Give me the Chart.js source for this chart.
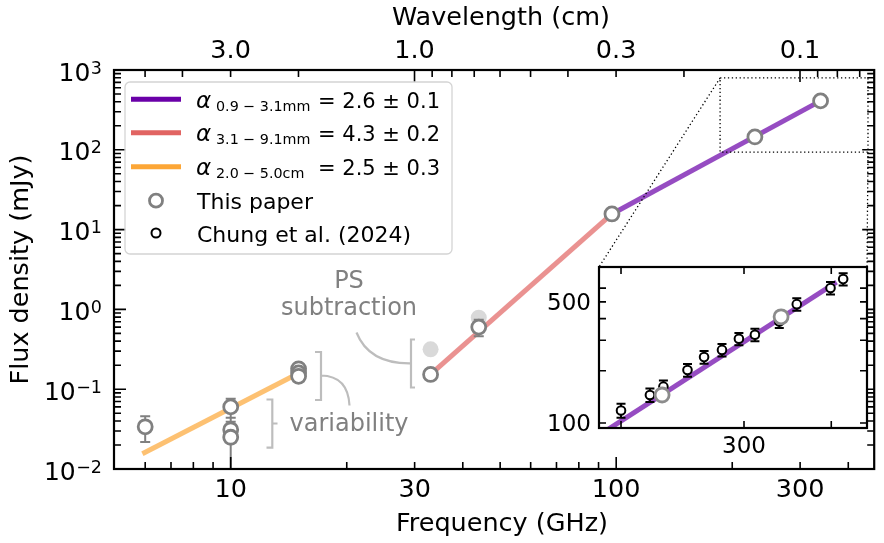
<!DOCTYPE html>
<html lang="en">
<head>
<meta charset="UTF-8">
<title>Flux density vs frequency</title>
<script src="https://cdn.jsdelivr.net/npm/chart.js@4"></script>
<style>
  body { margin: 0; background: #ffffff; }
  #wrap { position: relative; width: 884px; height: 543px; }
  #wrap canvas { position: absolute; left: 0; top: 0; }
  #insetCanvas { pointer-events: none; }
</style>
</head>
<body>
<div id="wrap">
  <canvas id="mainCanvas" width="884" height="543"></canvas>
  <canvas id="insetCanvas" width="884" height="543"></canvas>
</div>
<script>
// ---- values (frequency in GHz, flux density in mJy) ----
const paperFreq = [6.0, 10, 10, 10, 15, 15, 15, 33, 44, 97.5, 229, 339];
const paperFlux = [0.0338, 0.060, 0.031, 0.025, 0.18, 0.16, 0.145, 0.153, 0.60, 15.7, 145, 410];
const paperErr  = [0.012, 0.016, 0.008, 0.03, 0.01, 0.01, 0.01, 0.015, 0.14, 1.0, 7, 20];

// before point-source subtraction (filled light grey)
const prePSFreq = [33, 44];
const prePSFlux = [0.316, 0.787];

// Chung et al. (2024), only shown in the inset
const chungFreq = [200, 220, 230, 249, 263, 279, 295, 311, 337, 357, 399, 416];
const chungFlux = [118, 145, 162, 202, 240, 264, 306, 323, 385, 485, 601, 677];
const chungErr  = [11, 13, 14, 17, 20, 22, 25, 27, 32, 40, 50, 55];

// power-law fits, start and end of each segment
const fitCmFreq  = [5.9, 15];    const fitCmFlux  = [0.0155, 0.158];
const fitMidFreq = [33, 97.5];   const fitMidFlux = [0.153, 15.7];
const fitMmFreq  = [97.5, 339];  const fitMmFlux  = [15.7, 410];
const insetFitFreq = [180, 407]; const insetFitFlux = [78, 650];

// legend texts
const fitNames  = ['0.9 \u2212 3.1mm', '3.1 \u2212 9.1mm', '2.0 \u2212 5.0cm'];
const fitValues = ['= 2.6 \u00b1 0.1', '= 4.3 \u00b1 0.2', '= 2.5 \u00b1 0.3'];
const fitColors = ['#6a00a8', '#e16462', '#fca636'];

// axes
const xRange = [4.98, 467];
const yRange = [0.01, 1000];
const insetX = [186, 450];
const insetY = [93.5, 795];
const bottomMajor = [10, 100];
const bottomMinor = [6, 7, 8, 9, 20, 30, 40, 50, 60, 70, 80, 90, 200, 300, 400];
const bottomLabels = [10, 30, 100, 300];
const topMajorCm = [1.0, 0.1];
const topMinorCm = [5, 4, 3, 2, 0.9, 0.8, 0.7, 0.6, 0.5, 0.4, 0.3, 0.2, 0.09, 0.08, 0.07];
const topLabelsCm = [3.0, 1.0, 0.3, 0.1];
const yDecades = [-2, -1, 0, 1, 2, 3];
const insetXTicks = [200, 300, 400];
const insetXLabels = [300];
const insetYTicks = [100, 200, 300, 400, 500, 600];
const insetYLabels = [100, 500];

const C_CM_GHZ = 29.98;   // wavelength(cm) = C / freq(GHz)
const FONT = '"DejaVu Sans", sans-serif';

function pts(xs, ys) {
    return xs.map((v, i) => ({ x: v, y: ys[i] }));
}

function text(ctx, s, x, y, size, align, color, italic) {
    ctx.save();
    ctx.font = (italic ? 'italic ' : '') + size + 'px ' + FONT;
    ctx.fillStyle = color || '#000';
    ctx.textAlign = align || 'left';
    ctx.textBaseline = 'alphabetic';
    ctx.fillText(s, x, y);
    ctx.restore();
}

// vertical error bars with caps, drawn from the chart's own scales
function drawErrBars(chart, xs, ys, errs, color, cap) {
    const { ctx, chartArea: a, scales: { x, y } } = chart;
    ctx.save();
    ctx.beginPath();
    ctx.rect(a.left, a.top, a.width, a.height);
    ctx.clip();
    ctx.strokeStyle = color;
    ctx.lineWidth = 2;
    ctx.beginPath();
    xs.forEach((v, i) => {
        const px = x.getPixelForValue(v);
        const lo = ys[i] - errs[i];
        const hi = ys[i] + errs[i];
        const pyLo = lo > 0 ? y.getPixelForValue(lo) : a.bottom + 10;
        const pyHi = y.getPixelForValue(hi);
        ctx.moveTo(px, pyLo); ctx.lineTo(px, pyHi);
        ctx.moveTo(px - cap, pyHi); ctx.lineTo(px + cap, pyHi);
        if (lo > 0) { ctx.moveTo(px - cap, pyLo); ctx.lineTo(px + cap, pyLo); }
    });
    ctx.stroke();
    ctx.restore();
}

function roundRect(ctx, x, y, w, h, r) {
    ctx.beginPath();
    ctx.moveTo(x + r, y);
    ctx.lineTo(x + w - r, y); ctx.arcTo(x + w, y, x + w, y + r, r);
    ctx.lineTo(x + w, y + h - r); ctx.arcTo(x + w, y + h, x + w - r, y + h, r);
    ctx.lineTo(x + r, y + h); ctx.arcTo(x, y + h, x, y + h - r, r);
    ctx.lineTo(x, y + r); ctx.arcTo(x, y, x + r, y, r);
    ctx.closePath();
}

const PAPER_IDX = 4;

const mainDecor = {
    id: 'mainDecor',
    beforeDatasetDraw(chart, args) {
        if (args.index === PAPER_IDX) drawErrBars(chart, paperFreq, paperFlux, paperErr, '#808080', 5);
    },
    afterDraw(chart) {
        const { ctx, chartArea: a, scales: { x, y } } = chart;
        const MAJ = 12, MIN = 7;

        // ticks, all pointing in
        ctx.save();
        ctx.strokeStyle = '#000';
        ctx.lineWidth = 1.6;
        ctx.beginPath();
        bottomMajor.forEach(v => { const p = x.getPixelForValue(v); ctx.moveTo(p, a.bottom); ctx.lineTo(p, a.bottom - MAJ); });
        bottomMinor.forEach(v => { const p = x.getPixelForValue(v); ctx.moveTo(p, a.bottom); ctx.lineTo(p, a.bottom - MIN); });
        topMajorCm.forEach(l => { const p = x.getPixelForValue(C_CM_GHZ / l); ctx.moveTo(p, a.top); ctx.lineTo(p, a.top + MAJ); });
        topMinorCm.forEach(l => { const p = x.getPixelForValue(C_CM_GHZ / l); ctx.moveTo(p, a.top); ctx.lineTo(p, a.top + MIN); });
        yDecades.forEach(d => {
            for (let k = 1; k <= 9; k++) {
                const v = k * Math.pow(10, d);
                if (v > yRange[1] * 1.0001) break;
                const p = y.getPixelForValue(v);
                const len = k === 1 ? MAJ : MIN;
                ctx.moveTo(a.left, p); ctx.lineTo(a.left + len, p);
                ctx.moveTo(a.right, p); ctx.lineTo(a.right - len, p);
            }
        });
        ctx.stroke();
        ctx.lineWidth = 2.2;
        ctx.strokeRect(a.left, a.top, a.width, a.height);
        ctx.restore();

        // tick labels
        bottomLabels.forEach(v => text(ctx, String(v), x.getPixelForValue(v), 497, 25.5, 'center'));
        topLabelsCm.forEach(l => text(ctx, l.toFixed(1), x.getPixelForValue(C_CM_GHZ / l), 58, 25.5, 'center'));
        yDecades.forEach(d => {
            const p = y.getPixelForValue(Math.pow(10, d));
            const sup = d < 0 ? '\u2212' + (-d) : String(d);
            ctx.font = '17.5px ' + FONT;
            const sw = ctx.measureText(sup).width;
            text(ctx, sup, 102, p + 3.5, 17.5, 'right');
            text(ctx, '10', 102 - sw - 0.5, p + 10.5, 25, 'right');
        });

        // axis titles
        text(ctx, 'Wavelength (cm)', 501, 25, 25.5, 'center');
        text(ctx, 'Frequency (GHz)', 502, 531, 25.5, 'center');
        ctx.save();
        ctx.translate(27.5, (a.top + a.bottom) / 2);
        ctx.rotate(-Math.PI / 2);
        text(ctx, 'Flux density (mJy)', 0, 0, 25.5, 'center');
        ctx.restore();

        // dotted box marking the zoomed region
        ctx.save();
        ctx.strokeStyle = '#000';
        ctx.lineWidth = 1.3;
        ctx.setLineDash([1.3, 2.6]);
        const rx0 = x.getPixelForValue(insetX[0]), rx1 = x.getPixelForValue(insetX[1]);
        const ry0 = y.getPixelForValue(insetY[1]), ry1 = y.getPixelForValue(insetY[0]);
        ctx.strokeRect(rx0, ry0, rx1 - rx0, ry1 - ry0);
        ctx.restore();

        // annotations
        const grey = '#808080';
        text(ctx, 'PS', 349, 288, 24, 'center', grey);
        text(ctx, 'subtraction', 349, 315, 24, 'center', grey);
        text(ctx, 'variability', 349, 431, 24, 'center', grey);
        ctx.save();
        ctx.strokeStyle = '#bdbdbd';
        ctx.lineWidth = 2.2;
        ctx.beginPath();
        // lower variability bracket
        ctx.moveTo(266.5, 399.5); ctx.lineTo(272.3, 399.5); ctx.lineTo(272.3, 447.7); ctx.lineTo(266.5, 447.7);
        ctx.moveTo(272.3, 423.5); ctx.lineTo(277.5, 423.5);
        // upper variability bracket with arc
        ctx.moveTo(315, 352); ctx.lineTo(321, 352); ctx.lineTo(321, 400); ctx.lineTo(315, 400);
        ctx.moveTo(321, 375.5); ctx.quadraticCurveTo(348, 376, 349.5, 405.5);
        // PS bracket with arc
        ctx.moveTo(415, 339.5); ctx.lineTo(411, 339.5); ctx.lineTo(411, 387.5); ctx.lineTo(415, 387.5);
        ctx.moveTo(411, 363.3); ctx.quadraticCurveTo(369, 364, 356.5, 332.5);
        ctx.stroke();
        ctx.restore();

        // legend
        ctx.save();
        roundRect(ctx, 125, 82, 327, 172, 5);
        ctx.fillStyle = 'rgba(255,255,255,0.8)';
        ctx.fill();
        ctx.strokeStyle = '#d4d4d4';
        ctx.lineWidth = 1.3;
        ctx.stroke();
        const rowY = [99.3, 132.7, 166.7];
        ctx.lineWidth = 5;
        fitNames.forEach((n, i) => {
            ctx.strokeStyle = fitColors[i];
            ctx.beginPath(); ctx.moveTo(131, rowY[i]); ctx.lineTo(181, rowY[i]); ctx.stroke();
            text(ctx, '\u03b1', 196, rowY[i] + 8.5, 23, 'left', '#000', true);
            text(ctx, n, 216, rowY[i] + 11.7, 14.3, 'left');
            text(ctx, fitValues[i], 318, rowY[i] + 8.5, 21, 'left');
        });
        ctx.lineWidth = 2.8;
        ctx.strokeStyle = '#808080';
        ctx.fillStyle = '#fff';
        ctx.beginPath(); ctx.arc(156, 200.7, 6.5, 0, Math.PI * 2); ctx.fill(); ctx.stroke();
        ctx.lineWidth = 2;
        ctx.strokeStyle = '#000';
        ctx.beginPath(); ctx.arc(156, 233, 4.5, 0, Math.PI * 2); ctx.fill(); ctx.stroke();
        ctx.restore();
        text(ctx, 'This paper', 197, 208.7, 22, 'left');
        text(ctx, 'Chung et al. (2024)', 197, 241.5, 22, 'left');
    }
};

const mainChart = new Chart(document.getElementById('mainCanvas'), {
    type: 'scatter',
    data: {
        datasets: [
            { label: 'fit cm', data: pts(fitCmFreq, fitCmFlux), showLine: true, borderColor: 'rgba(252,166,54,0.7)', borderWidth: 5, pointRadius: 0, order: 5 },
            { label: 'fit 3-9mm', data: pts(fitMidFreq, fitMidFlux), showLine: true, borderColor: 'rgba(225,100,98,0.7)', borderWidth: 5, pointRadius: 0, order: 5 },
            { label: 'fit 1-3mm', data: pts(fitMmFreq, fitMmFlux), showLine: true, borderColor: 'rgba(106,0,168,0.7)', borderWidth: 5, pointRadius: 0, order: 5 },
            { label: 'before PS subtraction', data: pts(prePSFreq, prePSFlux), pointRadius: 8, pointBorderWidth: 0, pointBackgroundColor: '#d9d9d9', order: 3 },
            { label: 'This paper', data: pts(paperFreq, paperFlux), pointRadius: 7, pointBorderWidth: 2.8, pointBorderColor: '#808080', pointBackgroundColor: '#ffffff', order: 1 }
        ]
    },
    options: {
        responsive: false,
        animation: false,
        devicePixelRatio: 1,
        events: [],
        layout: { padding: { left: 114, right: 1, top: 70, bottom: 74 } },
        plugins: { legend: { display: false }, tooltip: { enabled: false } },
        scales: {
            x: { type: 'logarithmic', min: xRange[0], max: xRange[1], display: false },
            y: { type: 'logarithmic', min: yRange[0], max: yRange[1], display: false }
        }
    },
    plugins: [mainDecor]
});

// ---- inset ----
const CHUNG_IDX = 1;
const inRange = (f) => f >= insetX[0] && f <= insetX[1];
const insetPaperFreq = paperFreq.filter(inRange);
const insetPaperFlux = paperFlux.filter((v, i) => inRange(paperFreq[i]));

const insetDecor = {
    id: 'insetDecor',
    beforeDraw(chart) {
        const { ctx, chartArea: a } = chart;
        ctx.save();
        ctx.fillStyle = '#ffffff';
        ctx.fillRect(a.left, a.top, a.width, a.height);
        ctx.restore();
    },
    beforeDatasetDraw(chart, args) {
        if (args.index === CHUNG_IDX) drawErrBars(chart, chungFreq, chungFlux, chungErr, '#000', 4.5);
    },
    afterDraw(chart) {
        const { ctx, chartArea: a, scales: { x, y } } = chart;
        const T = 7;
        ctx.save();
        ctx.strokeStyle = '#000';
        ctx.lineWidth = 1.6;
        ctx.beginPath();
        insetXTicks.forEach(v => {
            const p = x.getPixelForValue(v);
            ctx.moveTo(p, a.bottom); ctx.lineTo(p, a.bottom - T);
            ctx.moveTo(p, a.top); ctx.lineTo(p, a.top + T);
        });
        insetYTicks.forEach(v => {
            const p = y.getPixelForValue(v);
            ctx.moveTo(a.left, p); ctx.lineTo(a.left + T, p);
            ctx.moveTo(a.right, p); ctx.lineTo(a.right - T, p);
        });
        ctx.stroke();
        ctx.lineWidth = 2.2;
        ctx.strokeRect(a.left, a.top, a.width, a.height);

        // connectors from the dotted box in the main axes
        const mx = mainChart.scales.x, my = mainChart.scales.y;
        ctx.lineWidth = 1.3;
        ctx.setLineDash([1.3, 2.6]);
        ctx.beginPath();
        ctx.moveTo(mx.getPixelForValue(insetX[0]), my.getPixelForValue(insetY[1]));
        ctx.lineTo(a.left, a.top);
        ctx.moveTo(mx.getPixelForValue(insetX[1]), my.getPixelForValue(insetY[0]));
        ctx.lineTo(a.right, a.top);
        ctx.stroke();
        ctx.restore();

        insetXLabels.forEach(v => text(ctx, String(v), x.getPixelForValue(v), 453, 23, 'center'));
        insetYLabels.forEach(v => text(ctx, String(v), 591, y.getPixelForValue(v) + 8.5, 23, 'right'));
    }
};

const insetChart = new Chart(document.getElementById('insetCanvas'), {
    type: 'scatter',
    data: {
        datasets: [
            { label: 'fit 1-3mm', data: pts(insetFitFreq, insetFitFlux), showLine: true, borderColor: 'rgba(106,0,168,0.7)', borderWidth: 5, pointRadius: 0, order: 3 },
            { label: 'Chung et al. (2024)', data: pts(chungFreq, chungFlux), pointRadius: 4.3, pointBorderWidth: 2, pointBorderColor: '#000000', pointBackgroundColor: '#ffffff', order: 2 },
            { label: 'This paper', data: pts(insetPaperFreq, insetPaperFlux), pointRadius: 7, pointBorderWidth: 2.8, pointBorderColor: '#8c8c8c', pointBackgroundColor: '#ffffff', order: 1 }
        ]
    },
    options: {
        responsive: false,
        animation: false,
        devicePixelRatio: 1,
        events: [],
        layout: { padding: { left: 599, right: 17, top: 267, bottom: 115 } },
        plugins: { legend: { display: false }, tooltip: { enabled: false } },
        scales: {
            x: { type: 'logarithmic', min: insetX[0], max: insetX[1], display: false },
            y: { type: 'logarithmic', min: insetY[0], max: insetY[1], display: false }
        }
    },
    plugins: [insetDecor]
});
</script>
</body>
</html>
